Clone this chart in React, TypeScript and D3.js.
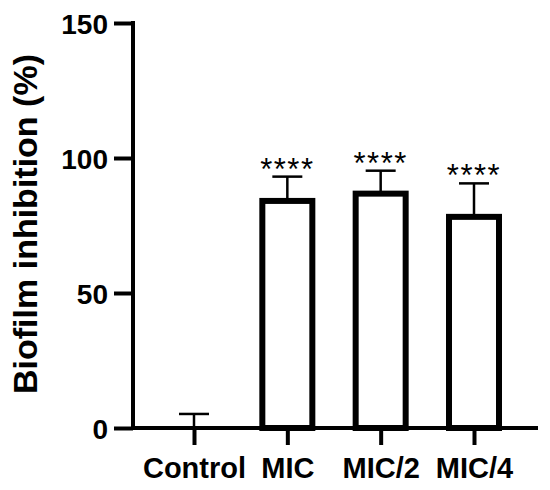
import React, { useEffect, useRef } from 'react';
import * as d3 from 'd3';

const categories = ['Control', 'MIC', 'MIC/2', 'MIC/4'];
const means = [0, 84.1, 86.8, 78.2];
const errors = [5.2, 9.0, 8.5, 12.4];
const stars = ['', '****', '****', '****'];
const yTicks = [0, 50, 100, 150];

const App: React.FC = () => {
  const ref = useRef<SVGSVGElement>(null);

  useEffect(() => {
    if (ref.current) drawChart(ref.current);
  }, []);

  return (
    <svg
      ref={ref}
      width={550}
      height={490}
      style={{ position: 'absolute', left: 0, top: 0, background: '#fff' }}
    ></svg>
  );
};

const drawChart = (el: SVGSVGElement) => {
  const left = 133;
  const right = 538;
  const top = 23;
  const bottom = 428;

  const svg = d3.select(el);
  svg.selectAll('*').remove();

  const yScale = d3.scaleLinear().domain([0, 150]).range([bottom, top]);
  const xScale = d3.scalePoint<string>().domain(categories).range([194, 474]);

  const font = "'Liberation Sans', Arial, sans-serif";

  // y axis
  const yAxisG = svg.append('g').attr('transform', `translate(${left},0)`);
  yAxisG.call(
    d3
      .axisLeft(yScale)
      .tickValues(yTicks)
      .tickSize(19)
      .tickPadding(6)
      .tickSizeOuter(0)
  );

  // x axis
  const xAxisG = svg.append('g').attr('transform', `translate(0,${bottom})`);
  xAxisG.call(d3.axisBottom(xScale).tickSize(17).tickPadding(12).tickSizeOuter(0));

  svg.selectAll('.domain').remove();
  svg.selectAll('.tick line').attr('stroke', '#000').attr('stroke-width', 4);

  yAxisG
    .selectAll('text')
    .attr('fill', '#000')
    .style('font-family', font)
    .style('font-weight', 'bold')
    .style('font-size', '28px')
    .attr('dy', '0.36em');

  xAxisG
    .selectAll('text')
    .attr('fill', '#000')
    .style('font-family', font)
    .style('font-weight', 'bold')
    .style('font-size', '29px')
    .attr('dy', '0.71em');

  // axis lines
  svg
    .append('line')
    .attr('x1', left)
    .attr('x2', left)
    .attr('y1', top - 2)
    .attr('y2', bottom + 2)
    .attr('stroke', '#000')
    .attr('stroke-width', 4);
  svg
    .append('line')
    .attr('x1', left)
    .attr('x2', right)
    .attr('y1', bottom)
    .attr('y2', bottom)
    .attr('stroke', '#000')
    .attr('stroke-width', 4);

  const barW = 50;
  const capW = 30;

  const groups = svg
    .append('g')
    .selectAll('g')
    .data(categories)
    .enter()
    .append('g');

  // error bars (drawn first so bars sit over their base)
  groups
    .append('line')
    .attr('x1', (d) => xScale(d) || 0)
    .attr('x2', (d) => xScale(d) || 0)
    .attr('y1', (d, i) => yScale(means[i]))
    .attr('y2', (d, i) => yScale(means[i] + errors[i]))
    .attr('stroke', '#000')
    .attr('stroke-width', 2.5);
  groups
    .append('line')
    .attr('x1', (d) => (xScale(d) || 0) - capW / 2)
    .attr('x2', (d) => (xScale(d) || 0) + capW / 2)
    .attr('y1', (d, i) => yScale(means[i] + errors[i]))
    .attr('y2', (d, i) => yScale(means[i] + errors[i]))
    .attr('stroke', '#000')
    .attr('stroke-width', 2.5);

  groups
    .filter((d, i) => means[i] > 0)
    .append('rect')
    .attr('x', (d) => (xScale(d) || 0) - barW / 2)
    .attr('width', barW)
    .attr('y', (d) => yScale(means[categories.indexOf(d)]))
    .attr('height', (d) => bottom - yScale(means[categories.indexOf(d)]))
    .attr('fill', '#fff')
    .attr('stroke', '#000')
    .attr('stroke-width', 6);

  groups
    .append('text')
    .attr('x', (d) => xScale(d) || 0)
    .attr('y', (d, i) => yScale(means[i] + errors[i]) + 3)
    .attr('text-anchor', 'middle')
    .attr('fill', '#000')
    .style('font-family', font)
    .style('font-size', '31px')
    .style('letter-spacing', '1.5px')
    .text((d, i) => stars[i]);

  svg
    .append('text')
    .attr('transform', `translate(37,224) rotate(-90)`)
    .attr('text-anchor', 'middle')
    .attr('fill', '#000')
    .style('font-family', font)
    .style('font-weight', 'bold')
    .style('font-size', '34px')
    .text('Biofilm inhibition (%)');
};

export default App;
